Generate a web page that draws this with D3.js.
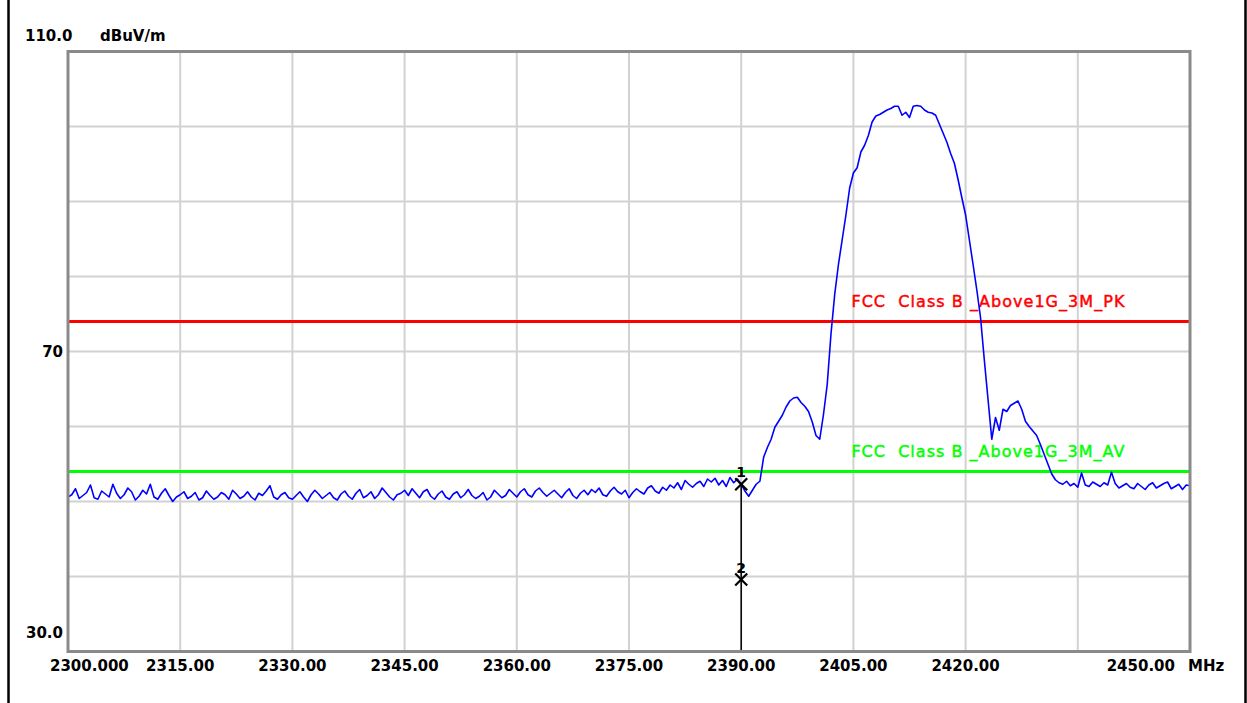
<!DOCTYPE html>
<html>
<head>
<meta charset="utf-8">
<script src="https://cdn.jsdelivr.net/npm/d3@7"></script>
<style>
  html, body { margin: 0; padding: 0; background: #fff; }
  svg { display: block; }
</style>
</head>
<body>
<svg id="chart" width="1247" height="703"></svg>
<script>
// ---------- DATA ----------
const freqStart = 2300;      // MHz, first trace point
const freqStep = 0.5;        // MHz between trace points
const traceValues = [
  // 2300 - 2389.5
  50.6, 50.9, 51.7, 50.4, 50.8, 51.2, 52.2, 50.5, 50.3, 51.4,
  51.0, 50.6, 52.3, 51.1, 50.4, 50.9, 51.8, 51.3, 50.2, 50.7,
  51.5, 51.0, 52.3, 50.6, 50.3, 51.1, 51.7, 50.8, 50.0, 50.6,
  50.9, 51.3, 50.4, 50.7, 51.2, 50.2, 50.5, 51.4, 50.8, 50.3,
  50.6, 51.2, 50.9, 50.3, 51.5, 51.0, 50.4, 50.7, 51.3, 50.6,
  50.2, 51.1, 50.8, 51.4, 52.1, 50.6, 50.3, 50.9, 51.2, 50.5,
  50.3, 50.8, 51.3, 50.6, 50.0, 50.9, 51.5, 51.0, 50.4, 50.8,
  51.2, 50.5, 50.2, 51.0, 51.4, 50.7, 50.3, 51.1, 51.6, 50.5,
  50.8, 51.3, 50.4, 50.9, 51.8, 51.2, 50.6, 50.2, 50.9, 51.1,
  51.5, 50.8, 51.7, 51.1, 50.5, 51.3, 51.6, 50.7, 50.3, 51.0,
  51.4, 50.6, 50.3, 51.0, 51.3, 50.5, 50.9, 51.6, 50.8, 50.4,
  50.7, 51.2, 50.2, 50.6, 51.5, 51.0, 50.5, 50.8, 51.6, 51.1,
  50.6, 51.3, 51.7, 50.9, 50.6, 51.4, 51.8, 51.2, 50.7, 51.1,
  51.5, 51.0, 50.5, 51.2, 51.7, 50.8, 50.4, 51.1, 51.5, 50.9,
  51.6, 51.2, 51.8, 50.9, 50.7, 51.4, 51.9, 51.3, 51.0, 51.5,
  50.5, 51.2, 51.7, 51.3, 51.0, 51.8, 52.1, 51.4, 51.1, 51.9,
  51.5, 52.2, 51.8, 52.5, 51.6, 52.8, 52.3, 51.9, 52.4, 52.7,
  52.0, 53.0, 52.6, 53.1, 52.2, 52.8, 52.0, 53.2, 52.5, 53.0,
  // 2390 - 2432.5
  52.3, 51.4, 50.7, 51.5, 52.3, 52.7, 55.9, 57.2, 58.3, 59.9,
  60.7, 61.5, 62.6, 63.4, 63.8, 63.9, 63.2, 62.7, 62.0, 60.6,
  58.8, 58.3, 61.6, 65.6, 72.3, 77.6, 81.6, 84.9, 88.2, 91.8,
  93.8, 94.5, 96.6, 97.5, 98.8, 100.6, 101.4, 101.6, 101.9, 102.2,
  102.4, 102.7, 102.7, 101.5, 101.9, 101.2, 102.7, 102.8, 102.7, 102.2,
  101.9, 101.8, 101.5, 100.3, 99.1, 97.9, 96.4, 95.1, 92.9, 90.5,
  88.2, 84.9, 81.6, 78.2, 74.5, 68.9, 63.6, 58.3, 61.2, 59.5,
  62.3, 62.0, 62.8, 63.1, 63.4, 62.3, 60.7, 60.0, 59.4, 58.8,
  57.6, 56.3, 55.0, 53.7, 52.9, 52.5,
  // 2433 - 2450
  52.3, 52.7, 52.1, 52.4, 51.9, 53.8, 52.2, 52.0, 52.6, 52.3,
  52.0, 52.5, 52.2, 53.9, 52.4, 51.8, 52.1, 52.4, 51.9, 51.7,
  52.4, 52.0, 51.6, 52.2, 52.5, 51.8, 52.1, 52.4, 52.6, 51.7,
  52.0, 52.3, 51.6, 52.2, 52.1
];

const xDomain = [2300, 2450];
const yDomain = [30, 110];
const xTickLabels = ["2300.000", "2315.00", "2330.00", "2345.00", "2360.00", "2375.00", "2390.00", "2405.00", "2420.00", "", "2450.00"];
const yTickLabels = [{v: 110, t: "110.0"}, {v: 70, t: "70"}, {v: 30, t: "30.0"}];
const yUnit = "dBuV/m";
const xUnit = "MHz";

const limitNames = ["FCC  Class B _Above1G_3M_PK", "FCC  Class B _Above1G_3M_AV"];
const limitValues = [74, 54];
const limitColors = ["#ff0000", "#00ff00"];

const markerFreqs = [2390, 2390];
const markerValues = [52.3, 39.6];
const markerLabels = ["1", "2"];

// ---------- DRAW ----------
const svg = d3.select("#chart");
const W = 1247, H = 703;
const plot = {left: 68, right: 1190, top: 51.5, bottom: 651.5};

const x = d3.scaleLinear().domain(xDomain).range([plot.left, plot.right]);
const y = d3.scaleLinear().domain(yDomain).range([plot.bottom, plot.top]);

// page side borders
svg.append("line").attr("x1", 8.5).attr("x2", 8.5).attr("y1", 0).attr("y2", H)
  .attr("stroke", "#000").attr("stroke-width", 2.5);
svg.append("line").attr("x1", 1245.5).attr("x2", 1245.5).attr("y1", 0).attr("y2", H)
  .attr("stroke", "#000").attr("stroke-width", 2.5);

// grid
const xGrid = d3.range(xDomain[0] + 15, xDomain[1], 15);
const yGrid = d3.range(yDomain[0] + 10, yDomain[1], 10);
const grid = svg.append("g").attr("stroke", "#d2d2d2").attr("stroke-width", 2);
grid.selectAll(".gx").data(xGrid).enter().append("line")
  .attr("x1", d => x(d)).attr("x2", d => x(d))
  .attr("y1", plot.top).attr("y2", plot.bottom);
grid.selectAll(".gy").data(yGrid).enter().append("line")
  .attr("y1", d => y(d)).attr("y2", d => y(d))
  .attr("x1", plot.left).attr("x2", plot.right);

// limit lines
limitValues.forEach((v, i) => {
  svg.append("line")
    .attr("x1", plot.left).attr("x2", plot.right)
    .attr("y1", y(v)).attr("y2", y(v))
    .attr("stroke", limitColors[i]).attr("stroke-width", 3);
  svg.append("text")
    .attr("x", x(2405) - 2).attr("y", y(v) - 14.5)
    .attr("fill", limitColors[i])
    .attr("stroke", limitColors[i]).attr("stroke-width", 0.45)
    .attr("font-family", "DejaVu Sans, sans-serif")
    .attr("font-size", 16)
    .style("white-space", "pre")
    .attr("textLength", 273).attr("lengthAdjust", "spacing")
    .text(limitNames[i]);
});

// trace
const traceData = traceValues.map((v, i) => ({f: freqStart + i * freqStep, v}));
const line = d3.line().x(d => x(d.f)).y(d => y(d.v));
svg.append("path").datum(traceData)
  .attr("d", line)
  .attr("fill", "none")
  .attr("stroke", "#0000ff")
  .attr("stroke-width", 1.6)
  .attr("stroke-linejoin", "round");

// marker vertical line
svg.append("line")
  .attr("x1", x(markerFreqs[0])).attr("x2", x(markerFreqs[0]))
  .attr("y1", y(markerValues[0])).attr("y2", plot.bottom)
  .attr("stroke", "#000").attr("stroke-width", 1.5);

// markers
markerValues.forEach((v, i) => {
  const cx = x(markerFreqs[i]), cy = y(v);
  const s = 6;
  const g = svg.append("g").attr("stroke", "#000").attr("stroke-width", 2.2);
  g.append("line").attr("x1", cx - s).attr("y1", cy - s).attr("x2", cx + s).attr("y2", cy + s);
  g.append("line").attr("x1", cx - s).attr("y1", cy + s).attr("x2", cx + s).attr("y2", cy - s);
  svg.append("text").attr("x", cx).attr("y", cy - 7)
    .attr("text-anchor", "middle")
    .attr("font-family", "DejaVu Sans, sans-serif").attr("font-weight", "bold")
    .attr("font-size", 14).attr("fill", "#000")
    .text(markerLabels[i]);
});

// frame
svg.append("rect")
  .attr("x", plot.left).attr("y", plot.top)
  .attr("width", plot.right - plot.left).attr("height", plot.bottom - plot.top)
  .attr("fill", "none").attr("stroke", "#8a8a8a").attr("stroke-width", 3);

// axis labels
const labelFont = g => g.attr("font-family", "DejaVu Sans, sans-serif")
  .attr("font-weight", "bold").attr("font-size", 15).attr("fill", "#000");

yTickLabels.forEach(d => {
  const t = svg.append("text").call(labelFont).text(d.t);
  if (d.v === yDomain[1]) {
    t.attr("x", 25).attr("y", y(d.v) - 11).attr("text-anchor", "start");
  } else {
    t.attr("x", plot.left - 5).attr("y", y(d.v) + (d.v === yDomain[0] ? -14 : 5)).attr("text-anchor", "end");
  }
});
svg.append("text").call(labelFont).attr("x", 100).attr("y", y(yDomain[1]) - 11).text(yUnit);

const xTickVals = d3.range(xDomain[0], xDomain[1] + 1, 15);
xTickVals.forEach((v, i) => {
  const lbl = xTickLabels[i];
  if (!lbl) return;
  const t = svg.append("text").call(labelFont).attr("y", 671).text(lbl);
  if (i === 0) t.attr("x", x(v) - 18).attr("text-anchor", "start");
  else if (i === xTickVals.length - 1) t.attr("x", x(v) - 15).attr("text-anchor", "end");
  else t.attr("x", x(v)).attr("text-anchor", "middle");
});
svg.append("text").call(labelFont).attr("x", x(xDomain[1]) - 2).attr("y", 671).text(xUnit);
</script>
</body>
</html>
